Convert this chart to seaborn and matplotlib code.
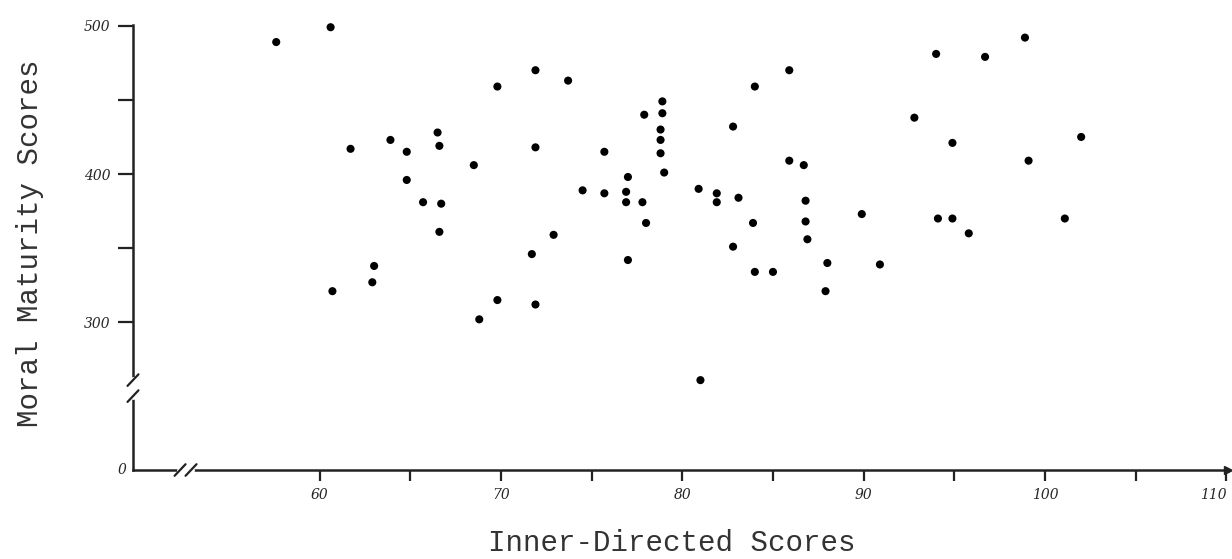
import matplotlib
matplotlib.use("Agg")
import matplotlib.pyplot as plt
import seaborn as sns
import pandas as pd

# values
inner_directed = [
    57.6, 60.6, 69.8, 61.7, 63.9, 64.8, 66.5, 66.6, 68.5, 64.8,
    65.7, 66.7, 66.6, 63.0, 62.9, 60.7, 68.8, 69.8, 71.9, 73.7,
    71.9, 75.7, 77.9, 78.9, 78.9, 78.8, 78.8, 78.8, 79.0, 74.5,
    75.7, 77.0, 76.9, 76.9, 77.8, 78.0, 72.9, 71.7, 77.0, 71.9,
    80.9, 81.9, 81.9, 83.1, 82.8, 84.0, 85.9, 85.9, 86.7, 86.8,
    86.8, 86.9, 83.9, 82.8, 84.0, 85.0, 88.0, 87.9, 81.0, 89.9,
    90.9, 92.8, 94.0, 96.7, 98.9, 94.9, 94.1, 94.9, 95.8, 99.1,
    101.1, 102.0,
]
moral_maturity = [
    489, 499, 459, 417, 423, 415, 428, 419, 406, 396,
    381, 380, 361, 338, 327, 321, 302, 315, 470, 463,
    418, 415, 440, 449, 441, 430, 423, 414, 401, 389,
    387, 398, 388, 381, 381, 367, 359, 346, 342, 312,
    390, 387, 381, 384, 432, 459, 470, 409, 406, 382,
    368, 356, 367, 351, 334, 334, 340, 321, 261, 373,
    339, 438, 481, 479, 492, 421, 370, 370, 360, 409,
    370, 425,
]
x_ticks = [60, 65, 70, 75, 80, 85, 90, 95, 100, 105, 110]
x_labels = ["60", "", "70", "", "80", "", "90", "", "100", "", "110"]
y_ticks = [300, 350, 400, 450, 500]
y_labels = ["300", "", "400", "", "500"]

df = pd.DataFrame({"inner": inner_directed, "moral": moral_maturity})

sns.set_style("white")
plt.rcParams["font.family"] = ["DejaVu Sans"]

fig = plt.figure(figsize=(12.32, 5.59), dpi=100)
ax = fig.add_axes([133 / 1232, 1 - 470 / 559, 1095 / 1232, 445 / 559])

sns.scatterplot(data=df, x="inner", y="moral", ax=ax, color="black",
                s=34, edgecolor="none", legend=False, clip_on=False)

ax.set_xlim(49.7, 110.1)
ax.set_ylim(200.4, 500.5)
sns.despine(ax=ax)
for side in ["left", "bottom"]:
    ax.spines[side].set_linewidth(1.8)
    ax.spines[side].set_color("#222222")

hand = dict(family="DejaVu Serif", style="italic", size=10)
ax.set_xticks(x_ticks)
ax.set_xticklabels(x_labels, fontdict=hand)
ax.set_yticks(y_ticks)
ax.set_yticklabels(y_labels, fontdict=hand)
ax.tick_params(axis="both", direction="out", length=8, width=1.6,
               color="#222222", pad=5, bottom=True, left=True)
ax.tick_params(axis="y", length=11)
ax.get_xticklabels()[-1].set_horizontalalignment("right")
ax.get_xticklabels()[-1].set_x(110.5)
ax.text(-0.006, 0, "0", transform=ax.transAxes, ha="right", va="center",
        **hand)

# axis breaks
tr = ax.transAxes
ax.plot([0.043, 0.053], [0, 0], color="white", lw=5, transform=tr,
        clip_on=False, zorder=5)
for xc in [0.043, 0.053]:
    ax.plot([xc - 0.005, xc + 0.005], [-0.013, 0.013], color="#222222",
            lw=1.6, transform=tr, clip_on=False, zorder=6)
ax.plot([0, 0], [0.166, 0.202], color="white", lw=5, transform=tr,
        clip_on=False, zorder=5)
for yc in [0.166, 0.202]:
    ax.plot([-0.005, 0.005], [yc - 0.013, yc + 0.013], color="#222222",
            lw=1.6, transform=tr, clip_on=False, zorder=6)
ax.plot([1.0], [0], marker=">", color="#222222", markersize=6,
        transform=tr, clip_on=False, zorder=6)

mono = dict(family="Liberation Mono", size=21, color="#333333")
ax.set_xlabel("Inner-Directed Scores", fontdict=mono, va="center")
ax.xaxis.set_label_coords(0.492, -0.164)
ax.set_ylabel("Moral Maturity Scores", fontdict=mono, va="center")
ax.yaxis.set_label_coords(-0.094, 0.51)

plt.savefig("out.png", dpi=100, facecolor="white")
